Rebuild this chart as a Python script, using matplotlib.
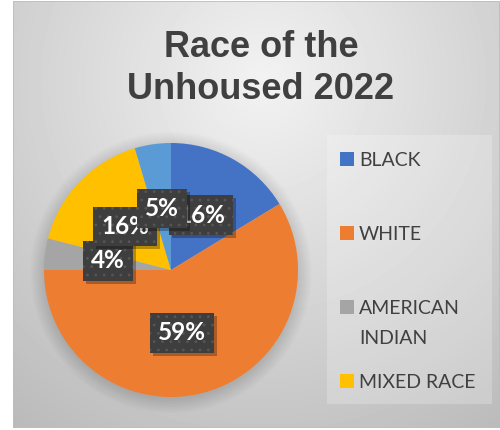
"""Race of the Unhoused 2022 - pie with boxed data labels and side legend."""
import numpy as np
import matplotlib
matplotlib.use("Agg")
import matplotlib.pyplot as plt
from matplotlib.patches import Rectangle, Circle
import matplotlib.transforms as mtransforms

categories = ["BLACK", "WHITE", "AMERICAN\nINDIAN", "MIXED RACE", "ASIAN"]
shares = [16.3, 58.7, 4.0, 16.4, 4.6]
colors = ["#4472C4", "#ED7D31", "#A5A5A5", "#FFC000", "#5B9BD5"]
n_legend = 4  # legend box only has room for the first four entries
title_lines = ["Race of the", "Unhoused 2022"]

# label layout (pie data coords), and draw order so overlaps match
label_pos = [(0.236, 0.433), (0.087, -0.496), (-0.496, 0.071), (-0.362, 0.346), (-0.071, 0.488)]
label_order = [0, 3, 2, 4, 1]

W, H = 500, 430
fig = plt.figure(figsize=(W / 100, H / 100), dpi=100)
fig.patch.set_facecolor("white")


def fx(x):
    return x / W


def fy(y):
    return 1 - y / H


# chart area background: soft grey radial gradient
bg = fig.add_axes([fx(13), fy(428), fx(500) - fx(13), fy(1) - fy(428)])
bg.set_axis_off()
yy, xx = np.mgrid[0:427, 0:487]
r = np.hypot((xx - 250) / 320.0, (yy - 80) / 330.0)
shade = np.clip(0.95 - 0.17 * r, 0, 1)
bg.imshow(shade, cmap="gray", vmin=0, vmax=1, aspect="auto", interpolation="bilinear")
bg.add_patch(Rectangle((0, 0), 1, 1, transform=bg.transAxes, fill=False,
                       edgecolor="#bdbdbd", lw=1.2))

# title, two lines placed on their baselines
for line, base in zip(title_lines, [57, 99]):
    fig.text(fx(261), fy(base), line, ha="center", va="baseline",
             fontsize=26, fontweight="bold", color="#404040", family="Liberation Sans")

# pie
ax = fig.add_axes([fx(44), fy(397), 254 / W, 254 / H])
ax.set_axis_off()
for k in range(10):
    ax.add_patch(Circle((0.0, -0.02), 1.0 + 0.012 * k, color="black", alpha=0.012,
                        lw=0, zorder=0, clip_on=False))
wedges, _ = ax.pie(shares, colors=colors, startangle=90, counterclock=False, radius=1,
                   wedgeprops=dict(linewidth=0), frame=False)
ax.set_xlim(-1, 1)
ax.set_ylim(-1, 1)

plt.rcParams["hatch.linewidth"] = 0.8
shadow_tf = mtransforms.offset_copy(ax.transData, fig=fig, x=3, y=-3, units="dots")
for i in label_order:
    x, y = label_pos[i]
    txt = "%d%%" % round(shares[i])
    ax.text(x, y, txt, transform=shadow_tf, ha="center", va="center", fontsize=17.5,
            fontweight="bold", family="Lato", color=(0, 0, 0, 0), zorder=5 + i * 0.1,
            bbox=dict(boxstyle="square,pad=0.33", facecolor="black", alpha=0.28, lw=0))
    ax.text(x, y, txt, ha="center", va="center", fontsize=17.5, fontweight="bold",
            family="Lato", color="white", zorder=5 + i * 0.1 + 0.05,
            bbox=dict(boxstyle="square,pad=0.33", facecolor="#3e3e3e",
                      edgecolor="#565656", hatch="..", lw=0))

# legend
fig.patches.append(Rectangle((fx(327), fy(404)), fx(492) - fx(327), fy(135) - fy(404),
                             transform=fig.transFigure, facecolor="white", alpha=0.22,
                             lw=0, zorder=1))
for i in range(n_legend):
    yc = 159 + 74 * i
    fig.patches.append(Rectangle((fx(340), fy(yc + 7)), 14 / W, 14 / H,
                                 transform=fig.transFigure, facecolor=colors[i], lw=0,
                                 zorder=2))
    for j, line in enumerate(categories[i].split("\n")):
        fig.text(fx(359), fy(yc + 30 * j), line, ha="left", va="center_baseline",
                 fontsize=14, family="Lato", color="#404040", zorder=3)

fig.savefig("out.png", dpi=100)
